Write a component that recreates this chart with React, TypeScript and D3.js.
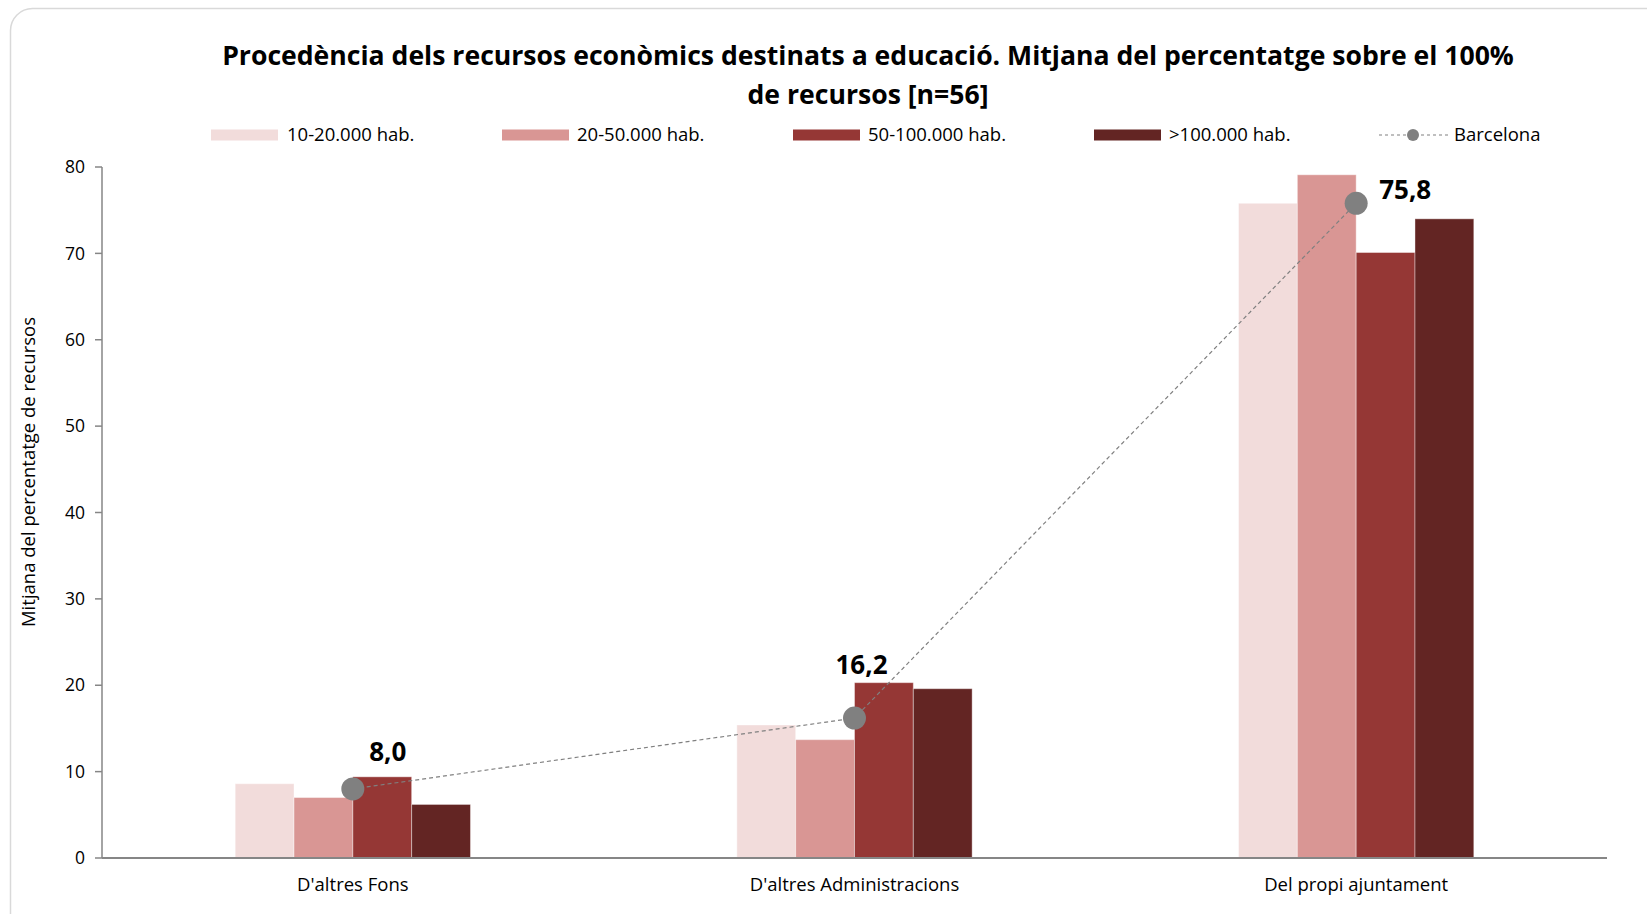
import React from 'react';
import * as d3 from 'd3';

const categories = ["D'altres Fons", "D'altres Administracions", 'Del propi ajuntament'];
const seriesNames = ['10-20.000 hab.', '20-50.000 hab.', '50-100.000 hab.', '>100.000 hab.'];
const seriesColors = ['#f2dcdb', '#d99694', '#953735', '#632523'];
const seriesValues = [
  [8.6, 15.4, 75.8],
  [7.0, 13.7, 79.1],
  [9.4, 20.3, 70.1],
  [6.2, 19.6, 74.0],
];
const barcelona = [8.0, 16.2, 75.8];
const yTicks = [0, 10, 20, 30, 40, 50, 60, 70, 80];

const W = 1647;
const H = 914;
const FONT = '"Open Sans", Lato, sans-serif';

export default function App() {
  const margin = { left: 102, right: 40, top: 167, bottom: 56 };
  const x0 = d3.scaleBand().domain(categories).range([margin.left, W - margin.right]).padding(0);
  const groupW = x0.bandwidth() * 0.469;
  const x1 = d3.scaleBand().domain(seriesNames).range([0, groupW]).padding(0);
  const y = d3.scaleLinear().domain([0, 80]).range([H - margin.bottom, margin.top]);

  const cx = (c: string) => (x0(c) as number) + x0.bandwidth() / 2;
  const line = d3.line<number>().x((_, i) => cx(categories[i])).y(d => y(d));

  // label offsets mimic Excel's manually placed labels
  const labelOffsets = [[35, -37], [7, -53], [49, -13]];

  const legendItems = [
    { x: 211, textX: 287 },
    { x: 502, textX: 577 },
    { x: 793, textX: 868 },
    { x: 1094, textX: 1169 },
  ];
  const legendY = 135;
  const fs = 18.5;

  return (
    <svg width={W} height={H} style={{ position: 'absolute', left: 0, top: 0, background: '#fff' }} fontFamily={FONT}>
      <rect x={10.5} y={8.5} width={W + 40} height={H + 40} rx={22} fill="#fff" stroke="#d9d9d9" strokeWidth={1.5} />

      <text x={868} y={65} textAnchor="middle" fontSize={26.6} fontWeight="bold" fill="#000">
        Procedència dels recursos econòmics destinats a educació. Mitjana del percentatge sobre el 100%
      </text>
      <text x={868} y={104} textAnchor="middle" fontSize={26.6} fontWeight="bold" fill="#000">
        de recursos [n=56]
      </text>

      {seriesNames.map((s, i) => (
        <g key={s}>
          <rect x={legendItems[i].x} y={legendY - 5.5} width={67} height={11} fill={seriesColors[i]} />
          <text x={legendItems[i].textX} y={legendY} dy="0.35em" fontSize={fs} fill="#000">{s}</text>
        </g>
      ))}
      <line x1={1379} x2={1448} y1={legendY} y2={legendY} stroke="#808080" strokeWidth={1.2} strokeDasharray="3,3" />
      <circle cx={1413} cy={legendY} r={6} fill="#808080" />
      <text x={1454} y={legendY} dy="0.35em" fontSize={fs} fill="#000">Barcelona</text>

      {yTicks.map(t => (
        <g key={t}>
          <line x1={margin.left - 7} x2={margin.left} y1={y(t)} y2={y(t)} stroke="#868686" strokeWidth={1.5} />
          <text x={margin.left - 17} y={y(t)} dy="0.35em" textAnchor="end" fontSize={17.5} fill="#000">{t}</text>
        </g>
      ))}

      <text transform={`translate(35,472) rotate(-90)`} textAnchor="middle" fontSize={fs} fill="#000">
        Mitjana del percentatge de recursos
      </text>

      {seriesNames.map((s, si) => (
        <g key={s}>
          {categories.map((c, ci) => {
            const left = cx(c) - groupW / 2 + (x1(s) as number);
            return (
              <rect key={c} x={left} y={y(seriesValues[si][ci])} width={x1.bandwidth()}
                height={y(0) - y(seriesValues[si][ci])} fill={seriesColors[si]}
                stroke="#ffffff" strokeOpacity={0.4} strokeWidth={1} />
            );
          })}
        </g>
      ))}

      <line x1={margin.left} x2={W - margin.right} y1={y(0)} y2={y(0)} stroke="#868686" strokeWidth={2} />
      <line x1={margin.left} x2={margin.left} y1={y(0)} y2={y(80)} stroke="#868686" strokeWidth={1.5} />

      {categories.map(c => (
        <text key={c} x={cx(c)} y={y(0) + 27} dy="0.35em" textAnchor="middle" fontSize={fs} fill="#000">{c}</text>
      ))}

      <path d={line(barcelona) || ''} fill="none" stroke="#808080" strokeWidth={1.2} strokeDasharray="4,3" />
      {barcelona.map((v, i) => (
        <g key={i}>
          <circle cx={cx(categories[i])} cy={y(v)} r={11.5} fill="#808080" />
          <text x={cx(categories[i]) + labelOffsets[i][0]} y={y(v) + labelOffsets[i][1]} dy="0.35em"
            textAnchor="middle" fontSize={26} fontWeight="bold" fill="#000">
            {v.toFixed(1).replace('.', ',')}
          </text>
        </g>
      ))}
    </svg>
  );
}
